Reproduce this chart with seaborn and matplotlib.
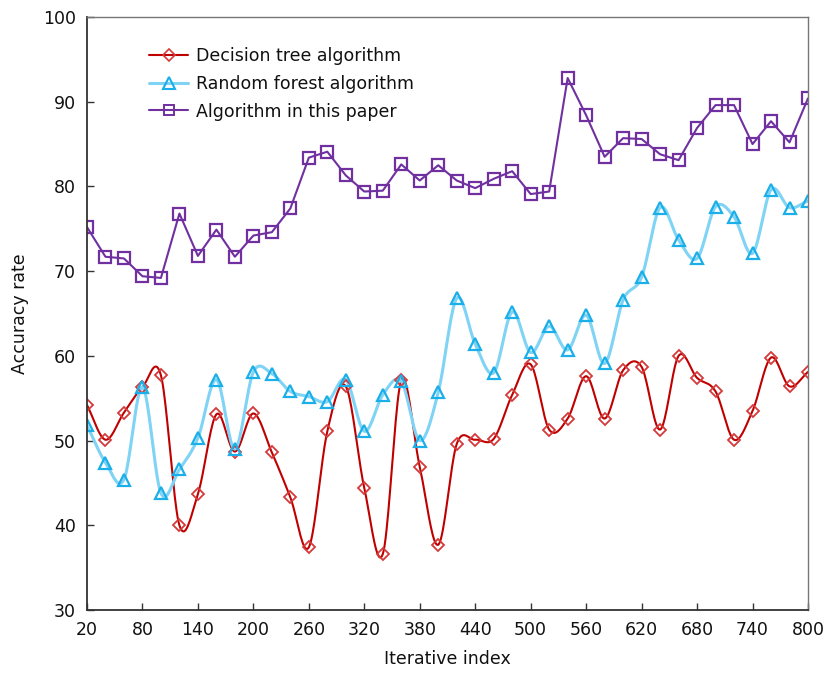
import numpy as np
import pandas as pd
import matplotlib
matplotlib.use("Agg")
import matplotlib.pyplot as plt
import seaborn as sns
from matplotlib.lines import Line2D

iterations = list(range(20, 801, 20))
decision_tree = [54.2, 50.1, 53.3, 56.3, 57.7, 40.0, 43.7, 53.1, 48.7, 53.2,
                 48.6, 43.3, 37.4, 51.1, 56.4, 44.4, 36.6, 57.1, 46.9, 37.7,
                 49.6, 50.1, 50.2, 55.4, 59.0, 51.3, 52.6, 57.6, 52.6, 58.3,
                 58.7, 51.3, 60.0, 57.4, 55.8, 50.1, 53.5, 59.8, 56.4, 58.1]
random_forest = [51.8, 47.4, 45.4, 56.3, 43.8, 46.6, 50.3, 57.2, 49.0, 58.1,
                 57.9, 55.8, 55.2, 54.6, 57.2, 51.1, 55.4, 57.0, 50.0, 55.7,
                 66.8, 61.4, 58.0, 65.2, 60.4, 63.5, 60.7, 64.8, 59.1, 66.6,
                 69.3, 77.5, 73.7, 71.5, 77.6, 76.4, 72.1, 79.6, 77.5, 78.3]
this_paper = [75.2, 71.7, 71.5, 69.4, 69.2, 76.8, 71.8, 74.9, 71.7, 74.2,
              74.6, 77.4, 83.4, 84.1, 81.3, 79.4, 79.5, 82.6, 80.7, 82.5,
              80.7, 79.8, 80.9, 81.8, 79.1, 79.4, 92.8, 88.4, 83.5, 85.7,
              85.6, 83.8, 83.1, 86.9, 89.6, 89.6, 85.0, 87.7, 85.2, 90.4]
x_ticks = list(range(20, 801, 60))
y_ticks = list(range(30, 101, 10))


def smooth(x, y, n=20):
    """Catmull-Rom spline through the points (like spreadsheet smoothed lines)."""
    x = np.asarray(x, float)
    y = np.asarray(y, float)
    px = np.concatenate([[2 * x[0] - x[1]], x, [2 * x[-1] - x[-2]]])
    py = np.concatenate([[2 * y[0] - y[1]], y, [2 * y[-1] - y[-2]]])
    xs, ys = [], []
    t = np.linspace(0, 1, n, endpoint=False)
    for i in range(1, len(px) - 2):
        for arr, out in ((px, xs), (py, ys)):
            p0, p1, p2, p3 = arr[i - 1], arr[i], arr[i + 1], arr[i + 2]
            out.extend(0.5 * ((2 * p1) + (-p0 + p2) * t
                              + (2 * p0 - 5 * p1 + 4 * p2 - p3) * t ** 2
                              + (-p0 + 3 * p1 - 3 * p2 + p3) * t ** 3))
    xs.append(x[-1]); ys.append(y[-1])
    return np.array(xs), np.array(ys)


sns.set_theme(style="white")
plt.rcParams['font.family'] = ['DejaVu Sans']

fig = plt.figure(figsize=(8.26, 6.78), dpi=100)
ax = fig.add_axes([0.1053, 0.1003, 0.8729, 0.8746])

red_line = "#C00000"
red_mark = "#D43A3A"
cyan_line = "#7FD3F5"
cyan_mark = "#1AAFE8"
purple = "#7030A0"

sx, sy = smooth(iterations, decision_tree)
sns.lineplot(x=sx, y=sy, ax=ax, color=red_line, lw=1.5, sort=False, estimator=None)
sx2, sy2 = smooth(iterations, random_forest)
sns.lineplot(x=sx2, y=sy2, ax=ax, color=cyan_line, lw=2.2, sort=False, estimator=None)
sns.lineplot(x=iterations, y=this_paper, ax=ax, color=purple, lw=1.5,
             estimator=None, sort=False)

ax.plot(iterations, decision_tree, ls="none", marker="D", ms=6.5, mfc="none",
        mec=red_mark, mew=1.3)
ax.plot(iterations, random_forest, ls="none", marker="^", ms=9, mfc="none",
        mec=cyan_mark, mew=1.6)
ax.plot(iterations, this_paper, ls="none", marker="s", ms=8.5, mfc="none",
        mec=purple, mew=1.6)

handles = [
    Line2D([], [], color=red_line, lw=1.5, marker="D", ms=6, mfc="none", mec=red_mark, mew=1.2),
    Line2D([], [], color=cyan_line, lw=2.2, marker="^", ms=8, mfc="none", mec=cyan_mark, mew=1.5),
    Line2D([], [], color=purple, lw=1.5, marker="s", ms=7, mfc="none", mec=purple, mew=1.4),
]
labels = ["Decision tree algorithm", "Random forest algorithm", "Algorithm in this paper"]
ax.legend(handles, labels, loc="upper left", bbox_to_anchor=(0.065, 0.975),
          frameon=False, fontsize=12.5, handlelength=2.2, handletextpad=0.5,
          labelspacing=0.55, labelcolor="#111111")

ax.set_xlim(20, 800)
ax.set_ylim(30, 100)
ax.set_xticks(x_ticks)
ax.set_yticks(y_ticks)
ax.set_xticklabels([str(v) for v in x_ticks], fontsize=12.5, color="#111111")
ax.set_yticklabels([str(v) for v in y_ticks], fontsize=12.5, color="#111111")
ax.tick_params(axis="both", direction="in", length=5, width=1, color="#333333",
               bottom=True, left=True, pad=8)
ax.set_xlabel("Iterative index", fontsize=12.5, labelpad=8, color="#111111")
ax.set_ylabel("Accuracy rate", fontsize=12.5, labelpad=10, color="#111111")

for side in ["left", "bottom"]:
    ax.spines[side].set_color("#333333")
    ax.spines[side].set_linewidth(1.3)
for side in ["right", "top"]:
    ax.spines[side].set_color("#777777")
    ax.spines[side].set_linewidth(1.0)

fig.savefig("out.png", dpi=100)
